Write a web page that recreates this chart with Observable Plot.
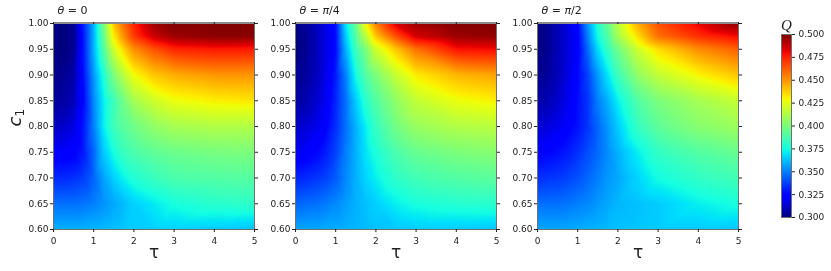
<!DOCTYPE html>
<html><head><meta charset="utf-8">
<script src="https://cdn.jsdelivr.net/npm/d3@7"></script>
<script src="https://cdn.jsdelivr.net/npm/@observablehq/plot@0.6"></script>
<style>
html,body{margin:0;padding:0;background:#fff;}
#chart{position:relative;width:831px;height:271px;overflow:hidden;filter:blur(.35px);}
#chart svg{position:absolute;top:0;background:transparent;max-width:none;}
</style></head><body><div id="chart"></div>
<script>
const taus=[0,.25,.5,.75,1,1.25,1.5,1.75,2,2.5,3,4,5];
const c1s=[.6,.65,.7,.75,.8,.85,.9,.95,.975,1];
const tauTicks=[0,1,2,3,4,5];
const c1Ticks=[.6,.65,.7,.75,.8,.85,.9,.95,1];
const qTicks=[.3,.325,.35,.375,.4,.425,.45,.475,.5];
const titles=["θ = 0","θ = π/4","θ = π/2"];
const q0=[
[.36,.36,.36,.36,.361,.362,.363,.364,.365,.366,.366,.365,.363],
[.347,.347,.347,.348,.35,.354,.358,.362,.366,.371,.376,.38,.381],
[.333,.333,.334,.337,.345,.357,.366,.373,.378,.384,.388,.39,.391],
[.322,.322,.323,.33,.345,.365,.376,.384,.388,.393,.396,.399,.4],
[.312,.313,.317,.33,.35,.372,.385,.392,.397,.405,.41,.413,.413],
[.305,.306,.31,.326,.352,.372,.385,.398,.41,.42,.427,.431,.433],
[.302,.303,.307,.328,.355,.378,.40,.415,.428,.44,.445,.45,.45],
[.3,.3,.303,.33,.36,.39,.42,.437,.452,.465,.474,.477,.476],
[.3,.3,.303,.33,.36,.395,.432,.452,.47,.487,.495,.498,.498],
[.3,.3,.303,.332,.36,.40,.44,.46,.475,.495,.5,.5,.5]];
const q4=[
[.358,.358,.358,.359,.359,.36,.361,.362,.363,.364,.365,.365,.364],
[.345,.346,.347,.349,.352,.356,.36,.363,.366,.372,.376,.379,.38],
[.332,.333,.335,.338,.343,.352,.36,.367,.372,.381,.386,.39,.392],
[.32,.322,.325,.33,.338,.35,.36,.37,.377,.388,.395,.4,.403],
[.312,.315,.318,.324,.334,.347,.36,.372,.383,.398,.407,.413,.415],
[.306,.308,.313,.32,.332,.347,.365,.38,.39,.405,.417,.427,.431],
[.303,.305,.31,.318,.33,.35,.375,.39,.40,.418,.432,.443,.447],
[.3,.303,.31,.317,.327,.36,.385,.40,.42,.44,.458,.478,.48],
[.3,.303,.31,.317,.327,.365,.39,.415,.44,.465,.485,.495,.497],
[.3,.305,.31,.318,.328,.37,.395,.43,.455,.485,.495,.5,.5]];
const q2=[
[.358,.358,.358,.358,.359,.36,.361,.362,.363,.364,.365,.365,.364],
[.347,.347,.347,.348,.35,.352,.355,.358,.361,.363,.365,.372,.376],
[.334,.335,.336,.338,.341,.345,.35,.355,.358,.367,.375,.382,.386],
[.324,.325,.327,.33,.334,.34,.346,.353,.36,.372,.382,.39,.395],
[.314,.316,.319,.323,.328,.335,.345,.355,.365,.383,.393,.403,.408],
[.307,.309,.313,.319,.327,.335,.35,.36,.372,.39,.40,.41,.418],
[.303,.305,.31,.317,.325,.338,.355,.37,.385,.405,.417,.43,.44],
[.3,.303,.31,.316,.323,.345,.368,.383,.397,.42,.435,.452,.462],
[.3,.303,.31,.316,.323,.35,.375,.39,.41,.435,.458,.472,.48],
[.3,.303,.31,.317,.325,.355,.378,.395,.415,.445,.465,.482,.498]];
const panels=[q0,q4,q2];
const offsets=[0,242,484];

function jet(t){
  const f=(p)=>{for(let i=1;i<p.length;i++){if(t<=p[i][0]){const a=p[i-1],b=p[i];return a[1]+(b[1]-a[1])*(t-a[0])/(b[0]-a[0]);}}return p[p.length-1][1];};
  const r=f([[0,0],[.35,0],[.66,1],[.89,1],[1,.5]]),g=f([[0,0],[.125,0],[.375,1],[.64,1],[.91,0],[1,0]]),b=f([[0,.5],[.11,1],[.34,1],[.65,0],[1,0]]);
  return `rgb(${Math.round(r*255)},${Math.round(g*255)},${Math.round(b*255)})`;
}
const color={type:"linear",domain:[.3,.5],interpolate:jet,clamp:true};
const font={fontFamily:"'DejaVu Sans'",fontSize:"9px",background:"transparent",overflow:"visible"};
const ink="#222",frameInk="#707070";

function italics(svg){
  svg.querySelectorAll("text").forEach(t=>{
    const s=t.textContent;
    if(/[θπ]/.test(s)) t.innerHTML=s.replace(/([θπ])/g,'<tspan font-style="italic">$1</tspan>');
    if(s==="c1") t.innerHTML='c<tspan font-size="12" font-style="normal" dy="3">1</tspan>';
  });
}
const chart=document.getElementById("chart");
panels.forEach((rows,i)=>{
  const pts=c1s.flatMap((c,j)=>taus.map((tau,k)=>({tau,c,q:rows[j][k]})));
  const marks=[
    Plot.raster(pts,{x:"tau",y:"c",fill:"q",x1:0,x2:5,y1:.6,y2:1,pixelSize:1,interpolate:"barycentric"}),
    Plot.frame({stroke:frameInk,strokeWidth:1}),
    Plot.ruleY([1],{stroke:"#8a8a8a",strokeWidth:2,dy:-.5}),
    Plot.axisX({anchor:"bottom",ticks:tauTicks,tickSize:3,tickPadding:5,label:null,tickFormat:d3.format("d"),stroke:ink,color:ink}),
    Plot.axisX({anchor:"top",ticks:tauTicks,tickSize:2,label:null,tickFormat:()=>"",stroke:ink}),
    Plot.axisY({anchor:"left",ticks:c1Ticks,tickSize:3,tickPadding:2,label:null,tickFormat:d3.format(".2f"),stroke:ink,color:ink}),
    Plot.axisY({anchor:"right",ticks:c1Ticks,tickSize:3,label:null,tickFormat:()=>"",stroke:ink}),
    Plot.text([titles[i]],{frameAnchor:"top-left",dx:4,dy:-17,fontSize:11,fill:ink,textAnchor:"start"}),
    Plot.text(["τ"],{frameAnchor:"bottom",dy:28,fontSize:17,fill:ink})
  ];
  if(i===0) marks.push(Plot.text(["c1"],{frameAnchor:"left",dx:-38,fontSize:18,fontStyle:"italic",rotate:-90,fill:ink}));
  const p=Plot.plot({width:270,height:271,marginLeft:53,marginRight:16,marginTop:23,marginBottom:42,
    style:font,x:{domain:[0,5]},y:{domain:[.6,1]},color,marks});
  p.style.left=offsets[i]+"px";
  italics(p);
  chart.appendChild(p);
});
const bar=Plot.plot({width:71,height:271,marginLeft:21,marginRight:40,marginTop:34,marginBottom:54,
  style:font,x:{domain:[0,1],axis:null},y:{domain:[.3,.5]},color,marks:[
    Plot.raster({fill:(x,y)=>y,x1:0,x2:1,y1:.3,y2:.5,pixelSize:1,width:10,height:183}),
    Plot.frame({stroke:frameInk,strokeWidth:1}),
    Plot.axisY({anchor:"right",ticks:qTicks,tickSize:3,tickPadding:4,label:null,tickFormat:d3.format(".3f"),stroke:ink,color:ink}),
    Plot.text(["Q"],{frameAnchor:"top",dy:-15,dx:0,fontFamily:"'Liberation Serif'",fontStyle:"italic",fontSize:15,fill:ink})
  ]});
bar.style.left="760px";
chart.appendChild(bar);
</script></body></html>
